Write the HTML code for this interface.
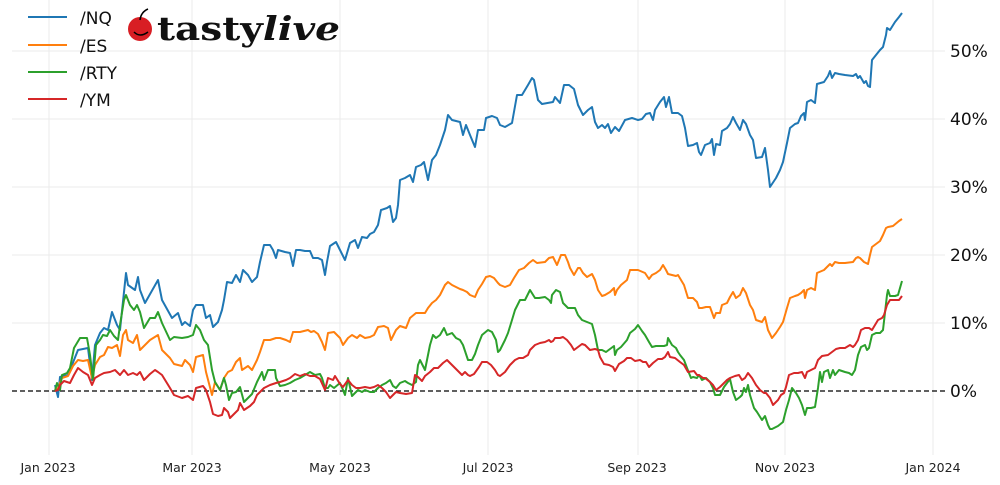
<!DOCTYPE html>
<html><head><meta charset="utf-8"><style>
body{margin:0;background:#fff;}
svg{display:block;font-family:"DejaVu Sans","Liberation Sans",sans-serif;}
</style></head><body>
<svg width="1000" height="485" viewBox="0 0 1000 485">
<g stroke="#ebebeb" stroke-width="1">
<line x1="12" y1="51" x2="945" y2="51"/><line x1="12" y1="119" x2="945" y2="119"/><line x1="12" y1="187" x2="945" y2="187"/><line x1="12" y1="255" x2="945" y2="255"/><line x1="12" y1="323" x2="945" y2="323"/>
<line x1="49" y1="0" x2="49" y2="455"/><line x1="192" y1="0" x2="192" y2="455"/><line x1="340" y1="0" x2="340" y2="455"/><line x1="488" y1="0" x2="488" y2="455"/><line x1="638" y1="0" x2="638" y2="455"/><line x1="785" y1="0" x2="785" y2="455"/><line x1="933" y1="0" x2="933" y2="455"/>
</g>
<line x1="12" y1="391" x2="945" y2="391" stroke="#000" stroke-width="1.3" stroke-dasharray="5,3"/>
<g fill="none" stroke-width="2" stroke-linejoin="round">
<polyline stroke="#1f77b4" points="55,385 58,397 60,377 68,375 72,365 78,350 88,348 92,380 95,345 100,333 104,328 108,330 112,312 117,325 120,330 126,273 128,285 135,290 138,277 140,290 145,303 158,280 162,300 172,318 178,313 182,325 185,322 190,326 193,310 196,305 203,305 206,318 210,315 213,327 218,322 222,310 224,300 227,282 232,283 236,275 240,282 243,270 248,275 252,282 257,277 260,262 264,245 270,245 273,250 276,258 278,250 285,252 290,253 293,266 296,250 300,250 305,251 310,251 313,258 318,258 322,260 325,275 327,262 330,246 336,242 340,250 345,260 350,243 355,240 358,248 362,237 367,238 370,234 374,232 378,225 381,210 387,208 390,206 393,222 396,218 398,205 400,180 405,178 410,175 413,182 416,167 421,165 424,162 428,180 432,160 436,155 440,145 445,130 448,115 452,120 460,122 463,135 466,125 470,135 475,147 478,130 484,130 486,118 492,116 497,118 500,125 505,127 512,123 517,95 522,95 528,85 532,78 534,80 538,100 542,104 553,102 555,97 560,103 564,85 569,85 574,89 578,105 583,115 588,110 592,107 595,122 598,128 602,125 605,128 608,124 611,133 615,127 619,131 625,120 632,118 638,120 642,119 646,114 650,113 653,120 655,110 660,102 664,97 666,107 669,97 672,113 678,113 682,116 685,128 688,146 693,145 697,143 699,152 701,155 705,145 710,143 712,139 714,155 716,144 720,145 722,131 727,128 730,124 733,117 736,123 740,130 743,120 746,124 750,135 753,140 756,158 762,157 765,148 768,170 770,187 776,178 780,170 783,162 787,143 790,128 795,124 798,123 801,116 804,113 805,120 807,102 811,100 815,103 817,84 824,82 828,76 830,71 832,78 835,73 839,74 845,75 853,76 856,74 858,78 860,76 864,83 866,81 868,86 870,87 872,60 876,55 880,50 883,47 886,35 887,28 890,30 895,22 899,17 902,13"/>
<polyline stroke="#ff7f0e" points="55,391 58,388 62,378 68,376 73,366 78,360 83,361 88,360 92,378 95,365 100,357 104,355 108,347 112,348 117,345 120,356 123,335 126,330 128,340 133,343 137,335 140,350 145,345 150,340 158,335 162,350 170,358 174,364 182,366 185,360 190,365 193,372 196,357 203,355 206,372 212,395 215,382 220,390 224,378 228,372 232,370 236,362 240,358 242,370 248,366 252,370 257,360 260,352 264,340 270,340 276,338 280,338 286,340 290,342 293,332 300,332 308,330 311,332 314,331 318,334 322,342 325,350 328,333 334,332 340,338 343,345 348,338 352,335 357,338 360,335 365,338 370,337 374,335 378,327 384,326 388,328 391,340 396,330 400,326 406,328 410,318 416,313 420,313 425,313 428,308 432,303 436,300 440,295 445,285 448,282 452,285 460,289 463,290 467,292 470,295 475,297 478,290 482,284 486,277 490,276 494,278 498,283 500,285 505,287 510,285 514,278 519,270 524,268 529,263 533,260 537,263 545,262 549,258 553,257 557,265 561,255 565,255 568,262 570,268 574,275 578,268 580,268 583,273 587,277 592,274 595,280 598,290 602,296 605,295 610,292 614,288 615,295 617,290 621,285 627,280 630,270 638,270 645,273 649,279 652,275 656,273 660,270 663,265 666,270 668,274 672,275 676,276 678,275 684,285 688,298 693,298 697,302 699,308 702,308 706,307 710,307 714,318 716,313 720,313 722,305 727,303 730,297 733,292 736,298 740,295 743,288 746,293 750,305 753,310 756,320 762,322 765,317 768,330 772,338 776,333 780,327 783,322 787,308 790,298 795,296 798,295 801,293 804,290 805,298 807,290 811,288 815,290 817,273 824,270 828,266 830,264 832,266 835,262 839,263 845,263 853,262 856,258 858,257 860,258 864,262 866,263 868,264 870,255 872,247 876,244 880,241 883,235 886,228 888,227 893,226 899,221 902,219"/>
<polyline stroke="#2ca02c" points="55,391 57,383 60,390 62,375 67,373 70,368 74,348 80,338 87,338 90,355 93,380 96,345 100,340 103,335 107,336 110,330 114,336 118,340 120,325 124,300 126,295 130,305 134,310 137,305 140,312 144,328 150,318 155,318 158,312 162,323 170,340 174,337 182,338 188,337 193,335 196,325 200,330 204,340 208,345 212,370 215,382 220,390 224,378 226,385 229,400 232,393 236,392 240,387 244,402 248,398 252,394 257,382 262,372 264,380 268,370 275,370 276,378 280,386 285,385 290,383 295,380 300,378 305,375 310,372 315,375 320,374 322,378 325,388 328,388 330,385 334,388 340,383 343,390 345,395 348,378 352,396 358,390 362,392 365,390 370,392 374,392 378,388 382,385 386,383 390,380 393,386 396,388 400,383 405,381 408,383 412,385 416,382 418,365 420,360 425,370 430,345 433,335 436,338 440,335 444,328 447,335 452,333 456,338 460,340 463,345 468,360 472,360 475,354 478,345 482,335 488,330 492,332 496,340 498,352 500,350 505,340 508,333 512,320 515,310 520,300 525,300 530,290 535,298 539,298 545,297 549,300 551,303 552,295 556,290 560,292 563,303 568,308 575,308 578,315 582,320 587,322 592,324 595,335 598,350 602,350 606,352 610,349 614,346 615,355 617,350 621,347 627,340 630,333 635,329 638,325 642,331 645,335 649,342 652,347 656,346 660,346 664,346 667,345 668,338 672,345 676,348 678,352 680,355 684,360 687,368 691,378 693,377 697,378 699,375 702,380 706,378 710,382 713,388 715,395 720,395 724,387 727,383 730,379 733,392 736,400 740,397 742,395 744,388 746,392 748,385 750,395 754,408 757,412 762,420 765,416 768,425 770,429 772,429 778,426 783,422 786,410 789,400 792,388 796,393 799,398 802,405 805,415 807,408 811,408 815,407 818,388 820,372 822,382 824,372 828,370 830,378 833,370 835,375 839,370 845,372 849,373 852,375 855,370 858,355 861,347 865,345 867,350 869,348 872,335 876,333 880,333 883,330 887,295 888,290 890,296 895,296 898,295 902,281"/>
<polyline stroke="#d62728" points="55,391 58,390 60,385 64,381 70,383 74,375 78,368 83,372 88,375 92,385 95,378 100,375 104,373 110,372 115,370 120,375 124,370 128,375 133,373 137,375 140,372 144,380 150,374 155,370 158,372 162,375 170,388 174,395 182,398 188,396 193,400 196,388 203,386 206,390 210,402 213,414 218,416 222,415 224,408 228,412 230,418 234,414 238,410 240,403 244,410 250,406 254,402 257,395 262,390 264,388 270,385 276,383 280,382 286,380 290,378 295,374 300,376 305,374 310,376 315,376 320,379 325,390 328,378 333,380 335,376 340,384 343,387 348,380 352,385 356,388 360,388 365,387 370,388 374,387 378,385 382,388 386,392 390,398 396,392 400,393 406,394 412,393 415,375 418,377 422,381 425,376 430,372 434,368 438,368 443,363 447,360 452,365 456,369 462,375 465,372 468,375 470,376 474,374 479,367 482,362 487,362 491,365 495,370 498,375 500,376 505,372 510,365 515,360 519,358 523,358 528,355 530,350 535,345 540,343 545,342 549,340 551,342 553,341 555,338 560,338 563,337 567,340 571,345 574,350 578,347 582,344 585,345 590,350 595,349 598,350 600,357 604,364 609,365 613,367 615,371 619,364 624,361 627,358 631,358 635,361 640,360 643,362 646,362 649,367 653,363 658,359 662,359 665,357 668,352 670,357 675,358 680,362 684,365 688,372 694,371 697,375 699,375 703,378 705,378 710,382 713,385 716,390 720,387 724,383 727,380 730,378 735,376 739,375 742,380 745,378 748,373 752,378 756,385 760,390 764,393 766,393 770,398 773,405 778,400 781,395 784,393 786,387 789,375 794,373 798,373 802,372 805,378 807,372 811,370 815,368 818,360 822,356 828,355 832,352 836,349 840,348 845,348 850,345 853,347 855,345 858,340 861,330 865,328 869,328 872,330 875,325 878,320 882,318 884,315 887,305 890,300 895,300 899,300 902,296"/>
</g>
<g font-size="17" fill="#111">
<text x="950" y="57">50%</text><text x="950" y="125">40%</text><text x="950" y="193">30%</text><text x="950" y="261">20%</text><text x="950" y="329">10%</text><text x="950" y="397">0%</text>
</g>
<g font-size="12.5" fill="#222" text-anchor="middle">
<text x="48" y="472">Jan 2023</text><text x="192" y="472">Mar 2023</text><text x="340" y="472">May 2023</text><text x="488" y="472">Jul 2023</text><text x="637" y="472">Sep 2023</text><text x="785" y="472">Nov 2023</text><text x="933" y="472">Jan 2024</text>
</g>
<g stroke-width="2">
<line x1="28" y1="17" x2="67" y2="17" stroke="#1f77b4"/><line x1="28" y1="45" x2="67" y2="45" stroke="#ff7f0e"/><line x1="28" y1="72" x2="67" y2="72" stroke="#2ca02c"/><line x1="28" y1="99" x2="67" y2="99" stroke="#d62728"/>
</g>
<g font-size="17" fill="#111">
<text x="80" y="24">/NQ</text><text x="80" y="52">/ES</text><text x="80" y="79">/RTY</text><text x="80" y="106">/YM</text>
</g>
<circle cx="140" cy="29" r="12" fill="#d81e24"/>
<path d="M134,32 q6,6 14,0" stroke="#000" stroke-width="1.5" fill="none"/>
<path d="M140,20 q1,-8 8,-11" stroke="#000" stroke-width="1.5" fill="none"/>
<text x="157" y="40" font-family="DejaVu Serif,serif" font-weight="bold" font-size="33" fill="#111" textLength="183" lengthAdjust="spacingAndGlyphs">tasty<tspan font-style="italic">live</tspan></text>
</svg>
</body></html>
